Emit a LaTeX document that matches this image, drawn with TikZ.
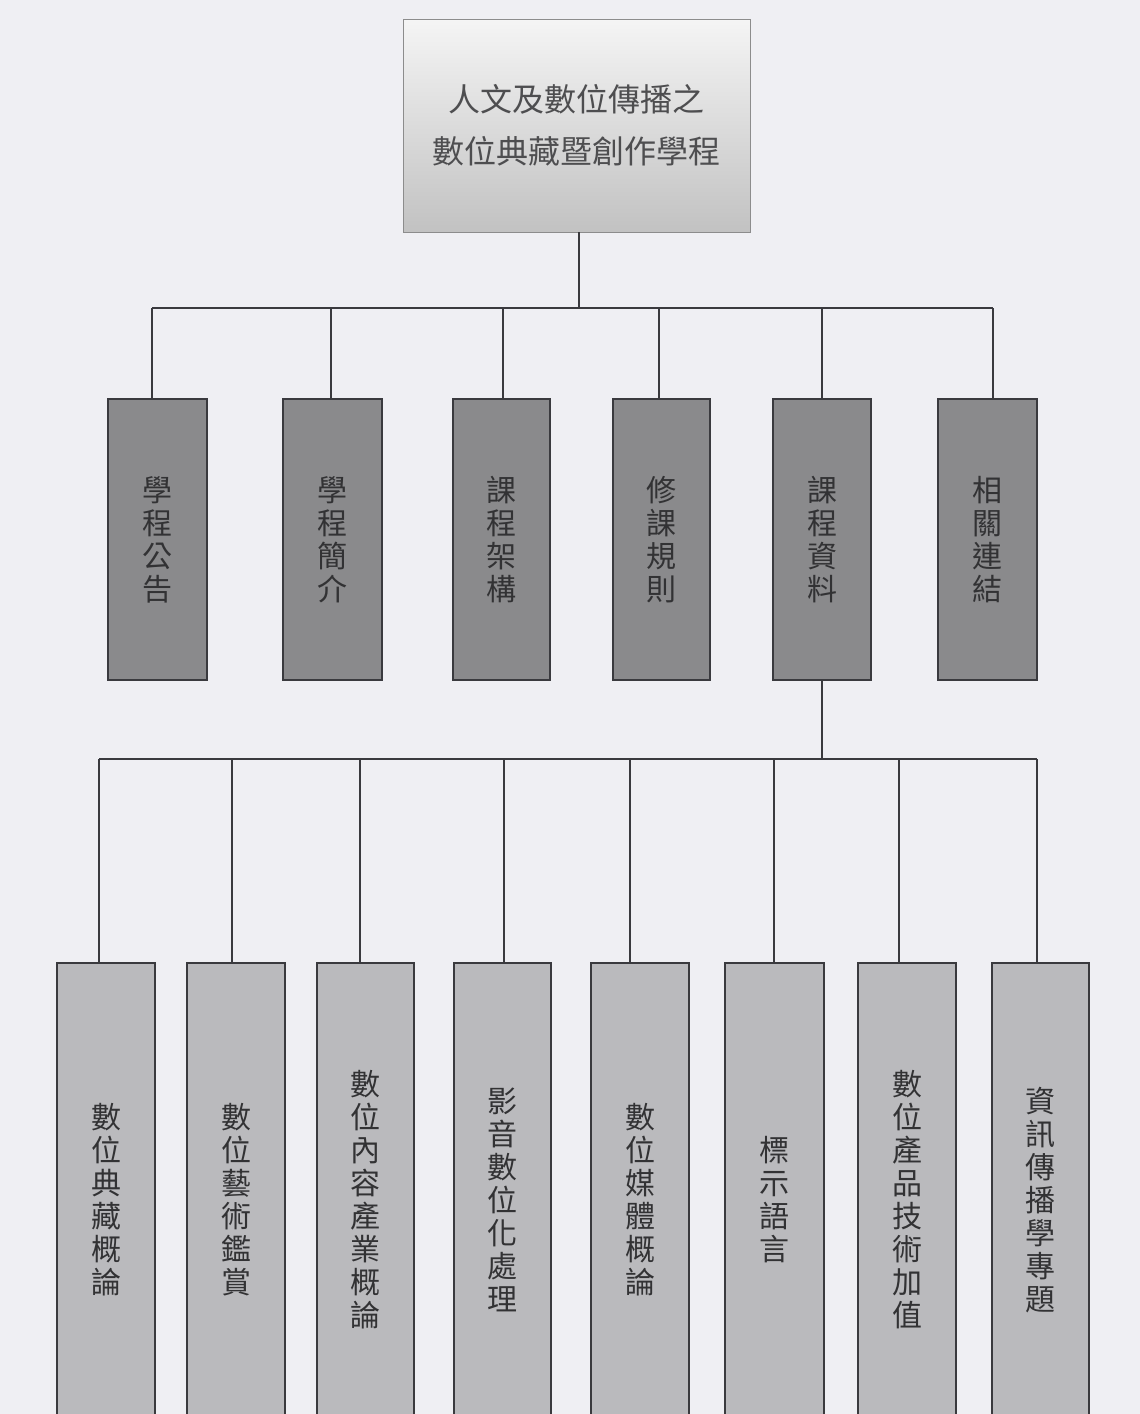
\documentclass[tikz,border=0pt]{standalone}
\usepackage{fontspec}
\newfontfamily\cjk{Noto Sans CJK TC}
\definecolor{paper}{RGB}{239,239,243}
\definecolor{ink}{RGB}{58,58,62}
\definecolor{darkbox}{RGB}{138,138,140}
\definecolor{lightbox}{RGB}{186,186,189}
\definecolor{boxtext}{RGB}{50,50,52}
\definecolor{roottext}{RGB}{78,78,80}
\begin{document}
\begin{tikzpicture}[x=1pt,y=-1pt,
  conn/.style={draw=ink,line width=2pt},
  rootbox/.style={draw=black!45,line width=1pt,top color=black!4,bottom color=black!24,
    anchor=north west,inner sep=0pt,outer sep=0pt,minimum width=347pt,minimum height=213pt,
    text=roottext,font=\cjk\fontsize{32}{52}\selectfont,align=center},
  topbox/.style={draw=ink,line width=2pt,fill=darkbox,anchor=north west,inner sep=0pt,outer sep=0pt,
    minimum height=281pt,text=boxtext,font=\cjk\fontsize{30}{33}\selectfont,align=center},
  lowbox/.style={draw=ink,line width=2pt,fill=lightbox,anchor=north west,inner sep=0pt,outer sep=0pt,
    minimum height=474pt,text=boxtext,font=\cjk\fontsize{30}{33}\selectfont,align=center}]
\useasboundingbox (0,0) rectangle (1140,1414);
\fill[paper] (0,0) rectangle (1140,1414);

% root
\node[rootbox] (root) at (403,19) {人文及數位傳播之\\數位典藏暨創作學程};

% first level
\foreach \n/\xa/\xb/\txt in {1/108/207/{學\\程\\公\\告},2/283/382/{學\\程\\簡\\介},3/453/550/{課\\程\\架\\構},4/613/710/{修\\課\\規\\則},5/773/871/{課\\程\\資\\料},6/938/1037/{相\\關\\連\\結}}{
  \pgfmathsetmacro{\w}{\xb-\xa}
  \node[topbox,minimum width=\w pt] (t\n) at (\xa,399) {\txt};
}

% second level
\foreach \n/\xa/\xb/\txt in {1/57/155/{數\\位\\典\\藏\\概\\論},2/187/285/{數\\位\\藝\\術\\鑑\\賞},3/317/414/{數\\位\\內\\容\\產\\業\\概\\論},4/454/551/{影\\音\\數\\位\\化\\處\\理},5/591/689/{數\\位\\媒\\體\\概\\論},6/725/824/{標\\示\\語\\言},7/858/956/{數\\位\\產\\品\\技\\術\\加\\值},8/992/1089/{資\\訊\\傳\\播\\學\\專\\題}}{
  \pgfmathsetmacro{\w}{\xb-\xa}
  \node[lowbox,minimum width=\w pt] (b\n) at (\xa,963) {\txt};
}

% connectors level 1
\coordinate (bus1) at (579,308);
\draw[conn] ([xshift=2.5pt]root.south) -- ([xshift=2.5pt]root.south |- bus1);
\draw[conn] ([xshift=-5.5pt]t1.north |- bus1) -- ([xshift=5.5pt]t6.north |- bus1);
\foreach \n/\d in {1/-5.5,2/-1.5,3/1.5,4/-2.5,5/0,6/5.5}{
  \draw[conn] ([xshift=\d pt]t\n.north) -- ([xshift=\d pt]t\n.north |- bus1);
}

% connectors level 2
\coordinate (bus2) at (822,759);
\draw[conn] (t5.south) -- (t5.south |- bus2);
\draw[conn] ([xshift=-7pt]b1.north |- bus2) -- ([xshift=-3.5pt]b8.north |- bus2);
\foreach \n/\d in {1/-7,2/-4,3/-5.5,4/1.5,5/-10,6/-0.5,7/-8,8/-3.5}{
  \draw[conn] ([xshift=\d pt]b\n.north) -- ([xshift=\d pt]b\n.north |- bus2);
}
\end{tikzpicture}
\end{document}
